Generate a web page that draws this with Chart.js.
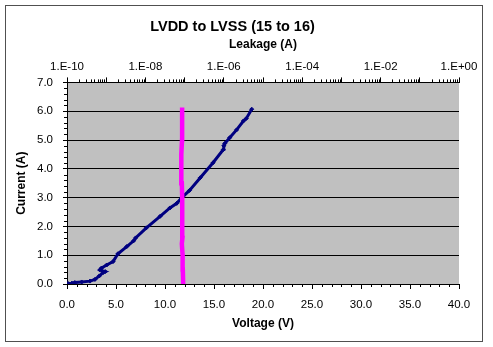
<!DOCTYPE html>
<html lang="en">
<head>
<meta charset="UTF-8">
<title>LVDD to LVSS (15 to 16)</title>
<script src="https://cdn.jsdelivr.net/npm/chart.js"></script>
<style>
  body { margin: 0; background: #fff; }
  #wrap { position: relative; width: 493px; height: 347px; }
  #frame { position: absolute; left: 5px; top: 5px; width: 476px; height: 335px; border: 1px solid #505050; }
  #ivChart { position: absolute; left: 0; top: 0; }
</style>
</head>
<body>
<div id="wrap">
  <div id="frame"></div>
  <canvas id="ivChart" width="493" height="347"></canvas>
</div>
<script>
// I-V sweep (bottom axis) and leakage vs current (top, log axis)
const voltage = [0.1, 0.5, 0.8, 1.5, 2.35, 2.85, 3.3, 3.7, 3.9, 3.35, 3.5, 4.05, 4.7, 5.2, 6.1, 6.8, 7.0, 8.1,
                 9.5, 10.5, 11.2, 11.7, 12.5, 13.6, 14.9, 15.95, 16.0, 16.1, 16.6, 17.3, 18.0, 18.3, 18.85];
const current = [0.02, 0.03, 0.05, 0.07, 0.10, 0.16, 0.28, 0.40, 0.43, 0.49, 0.55, 0.66, 0.78, 1.05, 1.30, 1.50, 1.60, 1.95,
                 2.35, 2.64, 2.80, 2.99, 3.25, 3.69, 4.21, 4.67, 4.80, 4.88, 5.08, 5.35, 5.66, 5.75, 6.07];

const leakCurrent = [0.0, 0.5, 1.0, 1.4, 1.6, 2.0, 2.5, 3.0, 3.5, 4.0, 4.5, 5.0, 5.5, 6.13];
const leakage = [9.2e-8, 9.0e-8, 8.9e-8, 8.5e-8, 8.8e-8, 8.8e-8, 8.7e-8, 8.6e-8, 8.5e-8, 8.1e-8, 8.4e-8, 8.6e-8, 8.6e-8, 8.7e-8];

const voltMin = 0, voltMax = 40, voltStep = 5;
const currMin = 0, currMax = 7, currStep = 1;
const leakDecades = [-10, -9, -8, -7, -6, -5, -4, -3, -2, -1, 0];

Chart.defaults.font.family = 'Arial, "Liberation Sans", sans-serif';
Chart.defaults.font.size = 11.5;
Chart.defaults.color = '#000';

function expLabel(v) {
  const e = Math.round(Math.log10(v));
  if (e % 2 !== 0) return '';
  return '1.E' + (e < 0 ? '-' : '+') + String(Math.abs(e)).padStart(2, '0');
}

const plotBg = {
  id: 'plotBg',
  beforeDraw(chart) {
    const { ctx, chartArea: a } = chart;
    ctx.save();
    ctx.fillStyle = '#C0C0C0';
    ctx.fillRect(a.left, a.top, a.right - a.left, a.bottom - a.top);
    ctx.restore();
  }
};

// small tick marks between the labelled ones
const minorTicks = {
  id: 'minorTicks',
  afterDraw(chart) {
    const { ctx, scales } = chart;
    ctx.save();
    ctx.strokeStyle = '#000';
    ctx.lineWidth = 1;
    ctx.beginPath();
    const x = scales.x, y = scales.y, t = scales.x2;
    for (let v = voltMin; v <= voltMax; v += 1) {
      if (v % voltStep === 0) continue;
      const px = Math.round(x.getPixelForValue(v)) + 0.5;
      ctx.moveTo(px, x.top); ctx.lineTo(px, x.top + 3);
    }
    for (let i = 0; i <= (currMax - currMin) * 5; i++) {
      if (i % 5 === 0) continue;
      const py = Math.round(y.getPixelForValue(currMin + i * 0.2)) + 0.5;
      ctx.moveTo(y.right, py); ctx.lineTo(y.right - 3, py);
    }
    for (let e = -10; e < 0; e++) {
      for (let k = 2; k <= 9; k++) {
        const px = Math.round(t.getPixelForValue(k * Math.pow(10, e))) + 0.5;
        ctx.moveTo(px, t.bottom); ctx.lineTo(px, t.bottom - 3);
      }
    }
    ctx.stroke();
    ctx.restore();
  }
};

new Chart(document.getElementById('ivChart'), {
  type: 'scatter',
  data: {
    datasets: [
      {
        label: 'Leakage',
        data: leakCurrent.map((c, i) => ({ x: leakage[i], y: c })),
        xAxisID: 'x2',
        yAxisID: 'y',
        showLine: true,
        borderColor: '#FF00FF',
        backgroundColor: '#FF00FF',
        borderWidth: 4.5,
        pointRadius: 0,
        tension: 0
      },
      {
        label: 'Current',
        data: voltage.map((v, i) => ({ x: v, y: current[i] })),
        xAxisID: 'x',
        yAxisID: 'y',
        showLine: true,
        borderColor: '#000080',
        backgroundColor: '#000080',
        borderWidth: 3,
        pointStyle: 'rectRot',
        pointRadius: 2,
        pointBorderWidth: 1,
        tension: 0
      }
    ]
  },
  options: {
    responsive: false,
    animation: false,
    layout: { padding: { left: 6, right: 34, top: 0, bottom: 0 } },
    plugins: {
      legend: { display: false },
      tooltip: { enabled: false },
      title: {
        display: true,
        text: 'LVDD to LVSS (15 to 16)',
        color: '#000',
        font: { size: 14.5, weight: 'bold' },
        padding: { top: 18.5, bottom: 1.5 }
      }
    },
    scales: {
      x: {
        type: 'linear',
        position: 'bottom',
        min: voltMin,
        max: voltMax,
        ticks: { stepSize: voltStep, maxRotation: 0, padding: 9, callback: v => v.toFixed(1) },
        grid: { drawOnChartArea: false, color: '#000', tickLength: 5 },
        border: { color: '#000' },
        title: { display: true, text: 'Voltage (V)', font: { size: 12, weight: 'bold' }, padding: { top: 0, bottom: 16.5 } },
        afterFit: s => { s.height = 63; }
      },
      x2: {
        type: 'logarithmic',
        position: 'top',
        min: 1e-10,
        max: 1,
        afterBuildTicks: s => { s.ticks = leakDecades.map(e => ({ value: Math.pow(10, e) })); },
        ticks: { autoSkip: false, maxRotation: 0, padding: 4, callback: v => expLabel(v) },
        grid: { drawOnChartArea: false, color: '#000', tickLength: 5 },
        border: { color: '#000' },
        title: { display: true, text: 'Leakage (A)', font: { size: 12, weight: 'bold' }, padding: { top: 0, bottom: 0 } },
        afterFit: s => { s.height = 45; }
      },
      y: {
        min: currMin,
        max: currMax,
        ticks: { stepSize: currStep, padding: 10, callback: v => v.toFixed(1) },
        grid: { color: '#000', tickLength: 4 },
        border: { color: '#000' },
        title: { display: true, text: 'Current (A)', font: { size: 12, weight: 'bold' }, padding: { top: 8.5, bottom: 0 } },
        afterFit: s => { s.width = 61; }
      }
    }
  },
  plugins: [plotBg, minorTicks]
});
</script>
</body>
</html>
